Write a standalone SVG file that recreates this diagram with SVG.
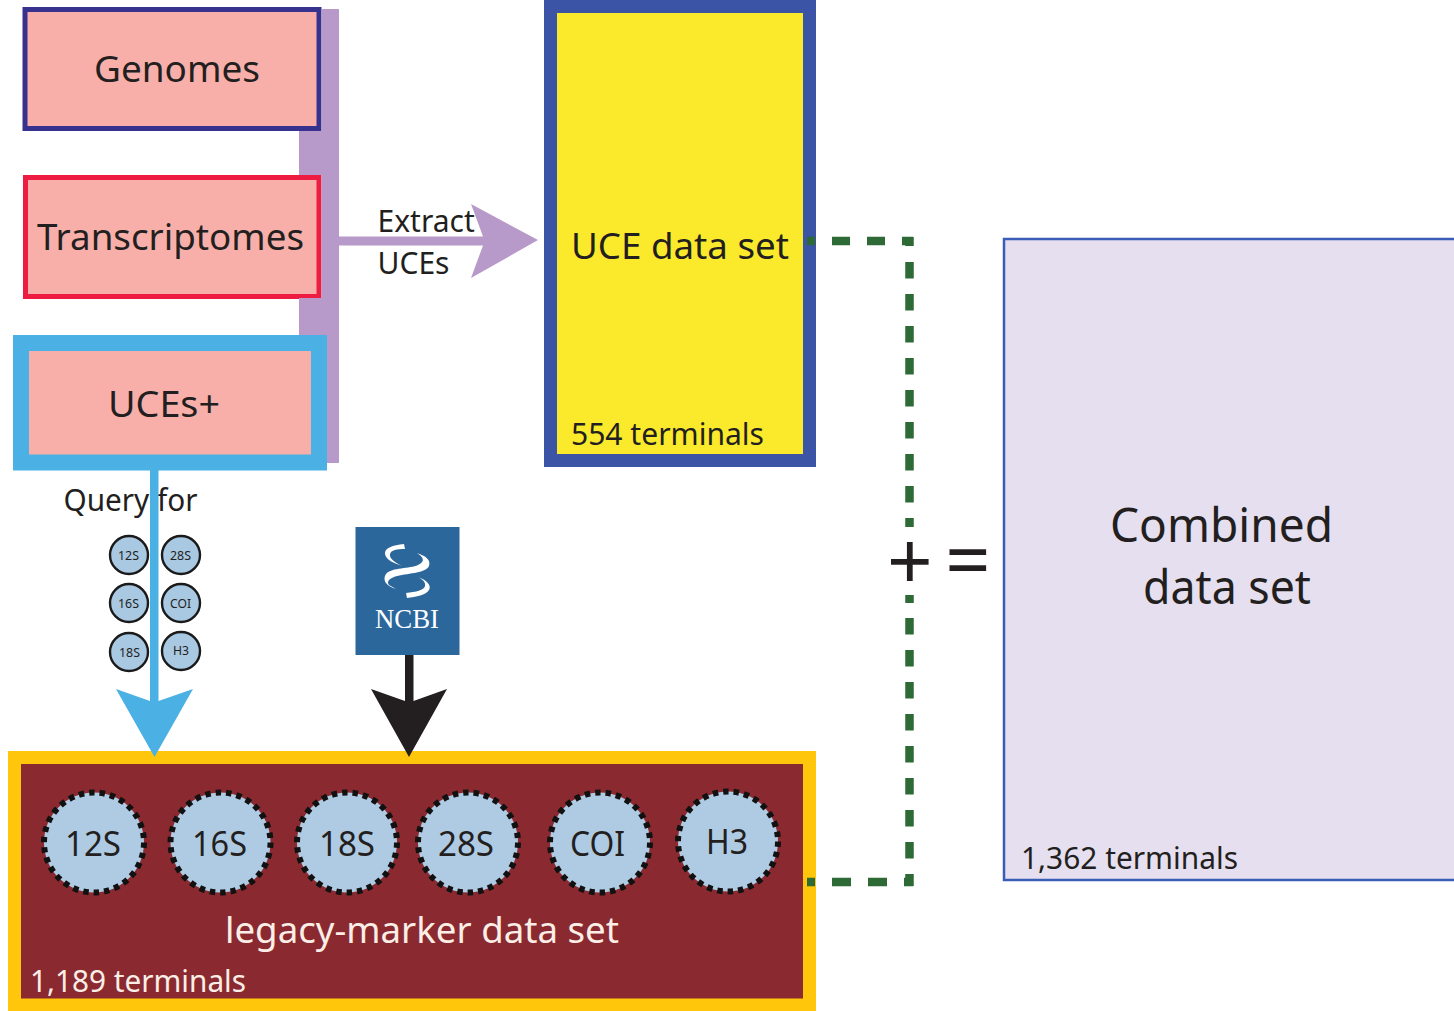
<svg xmlns="http://www.w3.org/2000/svg" width="1454" height="1011" viewBox="0 0 1454 1011">
<style>
text{font-family:"Noto Sans","Open Sans","Liberation Sans",sans-serif;fill:#231f20}
.pink{fill:#f8afaa}
.big{font-size:37px}
.mid{font-size:30px}
.lg{fill:#afcbe3;stroke:#111;stroke-width:6;stroke-dasharray:5.500 4.970}
.sm{fill:#a9c8e2;stroke:#1a1a1a;stroke-width:2.400}
.smt{font-size:12.500px}
.lt{font-size:34px}
.dash{fill:none;stroke:#2d6a35;stroke-width:8.500}
</style>
<rect width="1454" height="1011" fill="#fff"/>
<text id="query-label" class="mid" x="63.500" y="511" textLength="134" lengthAdjust="spacingAndGlyphs">Query for</text>
<g id="genomes">
<rect class="pink" x="25" y="9.500" width="294" height="119" stroke="#38328f" stroke-width="5"/>
<text class="big" x="94" y="82" textLength="166" lengthAdjust="spacingAndGlyphs">Genomes</text>
</g>
<g id="transcriptomes">
<rect class="pink" x="25.500" y="177.500" width="293.500" height="119" stroke="#ee1c40" stroke-width="5"/>
<text class="big" x="37" y="250" textLength="267" lengthAdjust="spacingAndGlyphs">Transcriptomes</text>
</g>
<g id="uces-plus">
<rect class="pink" x="21" y="343" width="298" height="119.500" stroke="#4bb0e4" stroke-width="16"/>
<text class="big" x="108" y="417" textLength="112" lengthAdjust="spacingAndGlyphs">UCEs+</text>
</g>
<g id="uce-data-set">
<rect x="550.500" y="6.500" width="259" height="454" fill="#fbea2c" stroke="#3b54a5" stroke-width="13"/>
<text class="big" x="571" y="259" textLength="218" lengthAdjust="spacingAndGlyphs">UCE data set</text>
<text class="mid" x="571" y="445" textLength="193" lengthAdjust="spacingAndGlyphs">554 terminals</text>
</g>
<g id="q12s"><circle class="sm" cx="129" cy="555" r="19"/><text class="smt" x="118" y="560" textLength="21" lengthAdjust="spacingAndGlyphs">12S</text></g>
<g id="q28s"><circle class="sm" cx="181" cy="555" r="19"/><text class="smt" x="170" y="560" textLength="21" lengthAdjust="spacingAndGlyphs">28S</text></g>
<g id="q16s"><circle class="sm" cx="129" cy="603" r="19"/><text class="smt" x="118" y="608" textLength="21" lengthAdjust="spacingAndGlyphs">16S</text></g>
<g id="qcoi"><circle class="sm" cx="181" cy="603" r="19"/><text class="smt" x="170" y="608" textLength="21" lengthAdjust="spacingAndGlyphs">COI</text></g>
<g id="q18s"><circle class="sm" cx="129" cy="652" r="19"/><text class="smt" x="119" y="657" textLength="21" lengthAdjust="spacingAndGlyphs">18S</text></g>
<g id="qh3"><circle class="sm" cx="181" cy="651" r="19"/><text class="smt" x="173" y="655" textLength="16" lengthAdjust="spacingAndGlyphs">H3</text></g>
<g id="ncbi">
<rect x="355.500" y="527" width="104" height="128" fill="#2c679c"/>
<path d="M404 544C393 545 384 548 385 554C386 560 394 563 402 566C394 562 389 558 390 554C391 550 397 549 405 549Z" fill="#fff"/>
<path d="M417 553C426 556 431 560 429 566C426 573 410 573 397 576C390 578 386 581 389 585L396 589C386 586 382 580 386 574C392 567 410 569 418 565C426 561 423 557 417 553Z" fill="#fff"/>
<path d="M418 577C426 580 432 585 429 590C426 595 416 597 407 598L406 593C416 592 424 590 425 586C426 582 422 579 418 577Z" fill="#fff"/>
<text x="375" y="628" font-size="27" textLength="64" lengthAdjust="spacingAndGlyphs" style="font-family:'Liberation Serif',serif;fill:#fff">NCBI</text>
</g>
<g id="legacy-marker-data-set">
<rect x="14.500" y="757.500" width="795" height="247.500" fill="#8a2a30" stroke="#ffc60b" stroke-width="13"/>
<text class="big" x="225" y="943" textLength="394" lengthAdjust="spacingAndGlyphs" style="fill:#fbeee6">legacy-marker data set</text>
<text class="mid" x="30" y="992" textLength="216" lengthAdjust="spacingAndGlyphs" style="fill:#fbeee6">1,189 terminals</text>
</g>
<g id="m12s"><circle class="lg" cx="94" cy="842.500" r="50"/><text class="lt" x="65" y="856" textLength="56" lengthAdjust="spacingAndGlyphs">12S</text></g>
<g id="m16s"><circle class="lg" cx="220.500" cy="842.500" r="50"/><text class="lt" x="192" y="856" textLength="55" lengthAdjust="spacingAndGlyphs">16S</text></g>
<g id="m18s"><circle class="lg" cx="347" cy="842.500" r="50"/><text class="lt" x="319" y="856" textLength="56" lengthAdjust="spacingAndGlyphs">18S</text></g>
<g id="m28s"><circle class="lg" cx="468" cy="842.500" r="50"/><text class="lt" x="438" y="856" textLength="56" lengthAdjust="spacingAndGlyphs">28S</text></g>
<g id="mcoi"><circle class="lg" cx="600" cy="842.500" r="50"/><text class="lt" x="570" y="856" textLength="55" lengthAdjust="spacingAndGlyphs">COI</text></g>
<g id="mh3"><circle class="lg" cx="728" cy="841.500" r="50"/><text class="lt" x="706" y="854" textLength="42" lengthAdjust="spacingAndGlyphs">H3</text></g>
<g id="connectors">
<path d="M321.500 9H339V463H327V335H299V298H321.500V175H299V131H321.500Z" fill="#b79ac9"/>
<path d="M339 236.500H483L471 204L538 240L471 278L483 245.500H339Z" fill="#b79ac9"/>
<path d="M150 470H158.500V701L193 689L154.500 757L116 689L150 701Z" fill="#4bb0e4"/>
<path d="M405 655H413.500V701L447 689L409 757L371 689L405 701Z" fill="#231f20"/>
<path class="dash" stroke-dasharray="8 17 18 17 18 17 12" d="M807 241H913"/>
<path class="dash" stroke-dasharray="16.500 15.500" d="M909.500 237V246M909.500 262V527M909.500 595V603M909.500 618V886"/>
<path class="dash" stroke-dasharray="8 17 19 17 19 17 12" d="M807 882H913"/>
</g>
<text id="extract-label" class="mid"><tspan x="377.500" y="232">Extract</tspan><tspan x="377.500" y="274">UCEs</tspan></text>
<text id="plus" x="887" y="590" font-size="80">+</text>
<text id="equals" x="945" y="588" font-size="80">=</text>
<g id="combined-data-set">
<rect x="1004" y="239" width="460" height="641" fill="#e5dfef" stroke="#3a5db5" stroke-width="2.500"/>
<text x="1110" y="542" font-size="47" textLength="223" lengthAdjust="spacingAndGlyphs">Combined</text>
<text x="1143" y="604" font-size="47" textLength="168" lengthAdjust="spacingAndGlyphs">data set</text>
<text class="mid" x="1021" y="869" textLength="217" lengthAdjust="spacingAndGlyphs">1,362 terminals</text>
</g>
</svg>
